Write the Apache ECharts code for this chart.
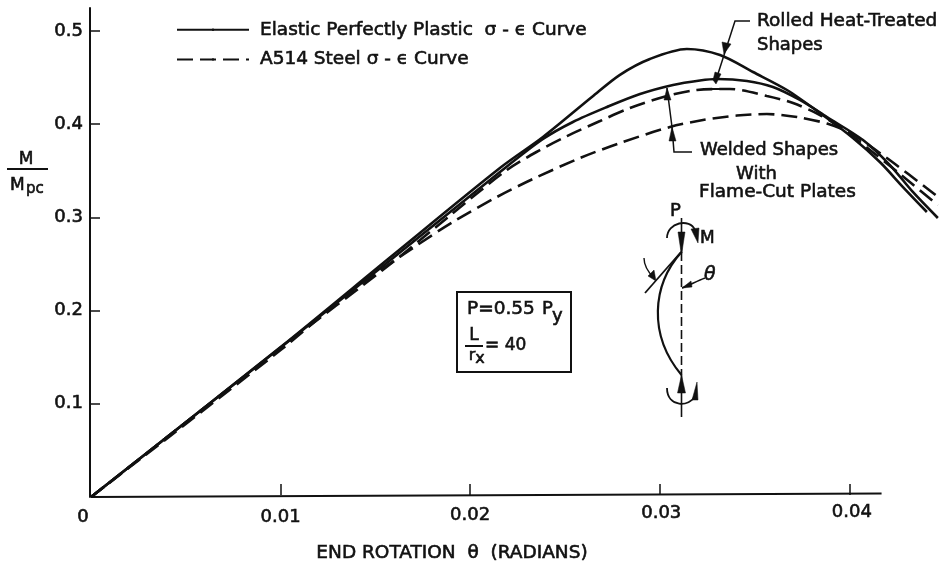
<!DOCTYPE html>
<html><head><meta charset="utf-8">
<style>html,body{margin:0;padding:0;background:#fff}#c{width:939px;height:561px}</style>
<script src="https://cdn.jsdelivr.net/npm/echarts@6/dist/echarts.min.js"></script>
</head><body><div id="c"></div>
<script>
const legendSolid = 'Elastic Perfectly Plastic  σ - ϵ Curve';
const legendDashed = 'A514 Steel σ - ϵ Curve';
const xTicks = [0, 0.01, 0.02, 0.03, 0.04];
const xTickLabels = ['0', '0.01', '0.02', '0.03', '0.04'];
const yTicks = [0.1, 0.2, 0.3, 0.4, 0.5];
const yTickLabels = ['0.1', '0.2', '0.3', '0.4', '0.5'];
const rolledSolidX = [0,.01007,.01593,.02157,.02384,.02642,.0279,.02948,.03143,.03318,.03492,.03671,.03845,.04019,.04161,.04283,.04409];
const rolledSolidY = [0,.1620,.2597,.3530,.3863,.4292,.4530,.4700,.4807,.4742,.4560,.4367,.4120,.3852,.3594,.3326,.3058];
const weldedSolidX = [0,.01007,.01593,.02157,.02384,.02542,.02722,.02896,.03070,.03212,.03302,.0346,.03597,.03739,.03882,.04072,.04214,.04335,.04467];
const weldedSolidY = [0,.1615,.2564,.3487,.3841,.4024,.4185,.4324,.4421,.4469,.4485,.4464,.4399,.4260,.4077,.3830,.3562,.3273,.2994];
const rolledDashedX = [0,.01007,.01593,.01878,.02194,.02368,.02511,.02685,.02843,.03038,.03196,.0337,.03565,.03703,.03845,.0395,.04109,.04267,.04467];
const rolledDashedY = [0,.1609,.2521,.2994,.3509,.3723,.3873,.4034,.4174,.4303,.4367,.4378,.4303,.4227,.4099,.3970,.3723,.3466,.3133];
const weldedDashedX = [0,.01007,.01382,.01698,.01909,.02141,.02331,.02579,.0279,.03054,.03228,.03407,.03565,.03724,.03882,.04003,.04198,.04462];
const weldedDashedY = [0,.1588,.2221,.2672,.2951,.3219,.3412,.3637,.3798,.3970,.4045,.4093,.4109,.4077,.4007,.3906,.3637,.3230];
const baselineX = [0, 0.0417];
const baselineY = [0, 0.0037];

const zip = (a, b) => a.map((v, i) => [v, b[i]]);
const INK = '#111';
const FONT = '"DejaVu Sans"';
const BW = 0.6;
const ts = (size, extra) => Object.assign({fontFamily: FONT, fontSize: size, fill: INK, stroke: INK, lineWidth: BW}, extra || {});
const solid = {color: INK, width: 2.6, type: 'solid'};
const dashed = {color: INK, width: 2.6, type: [16, 7]};
const curve = (name, xs, ys, ls) => ({name, type: 'line', data: zip(xs, ys), smooth: 0.3, symbol: 'none', lineStyle: ls, itemStyle: {color: INK}, clip: true, z: 3});
const labelBase = {fontFamily: FONT, fontSize: 18, color: INK, textBorderColor: INK, textBorderWidth: BW};
const xRich = {
  l0: Object.assign({}, labelBase, {padding: [5, 16, 0, 0]}),
  l1: Object.assign({}, labelBase, {padding: [5, 0, 0, 0]}),
  l2: Object.assign({}, labelBase, {padding: [3, 0, 0, 0]}),
  l3: Object.assign({}, labelBase, {padding: [1, 0, 0, 3]}),
  l4: Object.assign({}, labelBase, {padding: [0, 0, 0, 5]})
};
const near = (arr, v) => arr.findIndex(t => Math.abs(t - v) < 1e-9);
const line = (shape, w) => ({type: 'polyline', shape: {points: shape}, style: {stroke: INK, lineWidth: w || 1.5, fill: null}, z: 6});
const tri = (pts) => ({type: 'polygon', shape: {points: pts}, style: {fill: INK, stroke: INK, lineWidth: 0.5}, z: 6});
const bez = (a, b, c, d, w) => ({type: 'bezierCurve', shape: {x1: a[0], y1: a[1], cpx1: b[0], cpy1: b[1], cpx2: c[0], cpy2: c[1], x2: d[0], y2: d[1]}, style: {stroke: INK, lineWidth: w || 1.8, fill: null}, z: 6});
const txt = (t, x, y, size, extra) => ({type: 'text', x, y, style: ts(size || 18, Object.assign({text: t, verticalAlign: 'middle'}, extra || {})), z: 7});

const chart = echarts.init(document.getElementById('c'));
chart.setOption({
  animation: false,
  backgroundColor: '#fff',
  grid: {left: 91, right: 0, top: 8, height: 489, containLabel: false, outerBoundsMode: 'none'},
  legend: {
    orient: 'vertical', left: 171, top: 15, itemGap: 10, itemWidth: 72, itemHeight: 3,
    data: [legendSolid, legendDashed], selectedMode: false,
    textStyle: {fontFamily: FONT, fontSize: 18.5, color: INK, padding: [0, 0, 0, 6], textBorderColor: INK, textBorderWidth: BW}
  },
  xAxis: {
    type: 'value', min: 0, max: 0.04473, offset: -2,
    name: 'END ROTATION  θ  (RADIANS)', nameLocation: 'middle', nameGap: 49,
    nameTextStyle: {fontFamily: FONT, fontSize: 18.5, color: INK, padding: [0, 126, 0, 0], textBorderColor: INK, textBorderWidth: BW},
    axisLine: {show: false, onZero: false},
    axisTick: {show: true, inside: true, length: 11, lineStyle: {color: INK, width: 1.5}, customValues: xTicks.slice(1)},
    splitLine: {show: false},
    axisLabel: {show: true, margin: 8, hideOverlap: false, customValues: xTicks,
      formatter: (v) => { const i = near(xTicks, v); return '{l' + i + '|' + xTickLabels[i] + '}'; }, rich: xRich}
  },
  yAxis: {
    type: 'value', min: 0, max: 0.5247, offset: 1,
    axisLine: {show: true, onZero: false, lineStyle: {color: INK, width: 2}},
    axisTick: {show: true, inside: true, length: 10, lineStyle: {color: INK, width: 1.5}, customValues: yTicks},
    splitLine: {show: false},
    axisLabel: {show: true, margin: 7, fontFamily: FONT, fontSize: 18, color: INK, textBorderColor: INK, textBorderWidth: BW, customValues: yTicks,
      formatter: (v) => yTickLabels[near(yTicks, v)]}
  },
  series: [
    {name: 'X axis line', type: 'line', data: zip(baselineX, baselineY), symbol: 'none', lineStyle: {color: INK, width: 2}, z: 2},
    curve(legendSolid, rolledSolidX, rolledSolidY, solid),
    curve(legendSolid, weldedSolidX, weldedSolidY, solid),
    curve(legendDashed, rolledDashedX, rolledDashedY, dashed),
    curve(legendDashed, weldedDashedX, weldedDashedY, dashed)
  ],
  graphic: {elements: [
    // M / Mpc
    txt('M', 26, 160, 17, {align: 'center'}),
    line([[7, 169], [48, 169]], 2),
    txt('M', 10, 186, 17),
    txt('pc', 26, 189, 15),
    // Rolled annotation
    txt('Rolled Heat-Treated', 757, 21, 18.5),
    txt('Shapes', 757, 45, 18),
    line([[750, 21], [735, 21], [716, 80]], 1.5),
    line([[703, 89], [727, 89]], 2),
    tri([[724, 54], [722, 42], [731, 44]]),
    tri([[715, 72], [721, 74], [716, 84], [713, 80]]),
    // Welded annotation
    txt('Welded Shapes', 700, 150, 18),
    txt('With', 736, 174, 18),
    txt('Flame-Cut Plates', 699, 192, 18.5),
    line([[667, 88], [672, 127], [674, 152], [692, 152]], 1.5),
    tri([[667, 88], [664, 100], [671, 100]]),
    tri([[672, 127], [669, 141], [676, 141]]),
    // Parameter box
    {type: 'rect', shape: {x: 457, y: 292, width: 114, height: 80}, style: {fill: 'rgba(255,255,255,0)', stroke: INK, lineWidth: 2}, z: 6},
    txt('P=0.55', 467, 309, 18.5),
    txt('P', 542, 309, 18),
    txt('y', 552, 316, 18),
    txt('L', 474, 336, 17, {align: 'center'}),
    line([[465, 346], [483, 346]], 2),
    txt('r', 472, 356, 16, {align: 'center'}),
    txt('x', 480, 359, 16, {align: 'center'}),
    txt('= 40', 485, 346, 17),
    // Column sketch
    txt('P', 670, 211, 18),
    txt('M', 700, 239, 17),
    txt('θ', 704, 275, 19, {fontStyle: 'italic'}),
    {type: 'line', shape: {x1: 681.5, y1: 252, x2: 681.5, y2: 375}, style: {stroke: INK, lineWidth: 1.6, lineDash: [9, 4]}, z: 6},
    line([[681.5, 218], [681.5, 253]], 1.6),
    line([[681.5, 375], [681.5, 417]], 1.6),
    tri([[681.5, 255], [678, 232], [685, 232]]),
    tri([[681.5, 375], [677.5, 393], [685.5, 393]]),
    bez([681.5, 252], [652, 285], [648, 335], [681.5, 375], 2.2),
    line([[645, 293], [681, 252]], 1.8),
    bez([644, 258], [644, 266], [648, 272], [654, 278], 1.4),
    tri([[656, 281], [648, 276], [654, 270]]),
    bez([705, 278], [697, 281], [690, 285], [682, 288], 1.4),
    tri([[682, 288], [691, 281], [692, 287]]),
    bez([667, 238], [667, 222], [690, 218], [695, 230], 1.8),
    tri([[698, 243], [691, 229], [699, 228]]),
    bez([667, 388], [667, 408], [690, 407], [695, 396], 1.8),
    tri([[697, 382], [692, 400], [698, 400]])
  ]}
});
</script></body></html>
